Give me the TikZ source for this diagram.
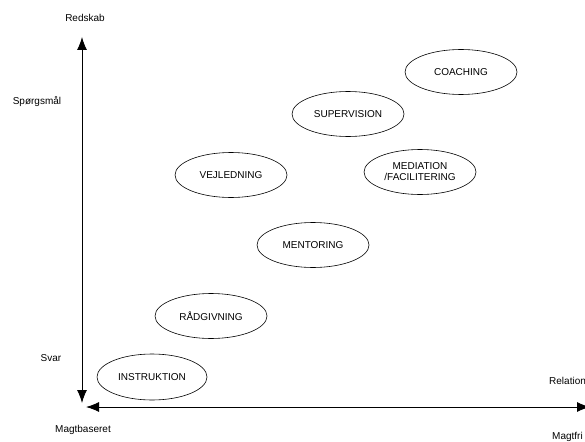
\documentclass[tikz,border=0pt]{standalone}
\usepackage{fontspec}
\setmainfont{Liberation Sans}
\usetikzlibrary{arrows.meta,shapes.geometric}
\begin{document}
\begin{tikzpicture}[x=1pt,y=-1pt,
  phase/.style={draw, ellipse, line width=0.6pt, minimum width=112pt, minimum height=45pt, inner sep=0pt, font=\fontsize{10}{11}\selectfont, align=center},
  lbl/.style={font=\fontsize{10}{11}\selectfont, inner sep=0pt},
  axis/.style={line width=0.9pt, {Latex[length=13pt,width=10pt]}-{Latex[length=13pt,width=10pt]}}]
\useasboundingbox (0,0) rectangle (585,441);
\clip (0,0) rectangle (585,441);
\coordinate (vtop) at (82,37);
\coordinate (vbot) at (82,403);
\coordinate (hleft) at (86,407);
\coordinate (hright) at (590,407);
\draw[axis] (vbot) -- (vtop);
\draw[axis] (hleft) -- (hright);
\node[lbl] (redskab) at (85,18) {Redskab};
\node[lbl] (spm) at (37,102) {Spørgsmål};
\node[lbl] (svar) at (51,358) {Svar};
\node[lbl] (magt) at (83,430) {Magtbaseret};
\node[lbl, anchor=west] (rel) at (549,381) {Relation};
\node[lbl, anchor=west] (magtfri) at (552,437) {Magtfri};
\node[phase] (coach) at (461,72) {COACHING};
\node[phase] (sup) at (348,114) {SUPERVISION};
\node[phase] (med) at (420,172) {MEDIATION\\/FACILITERING};
\node[phase] (vej) at (231,175) {VEJLEDNING};
\node[phase] (men) at (313,245) {MENTORING};
\node[phase] (rad) at (211,316) {RÅDGIVNING};
\node[phase, minimum width=110pt, minimum height=46pt] (ins) at (152,377) {INSTRUKTION};
\end{tikzpicture}
\end{document}
